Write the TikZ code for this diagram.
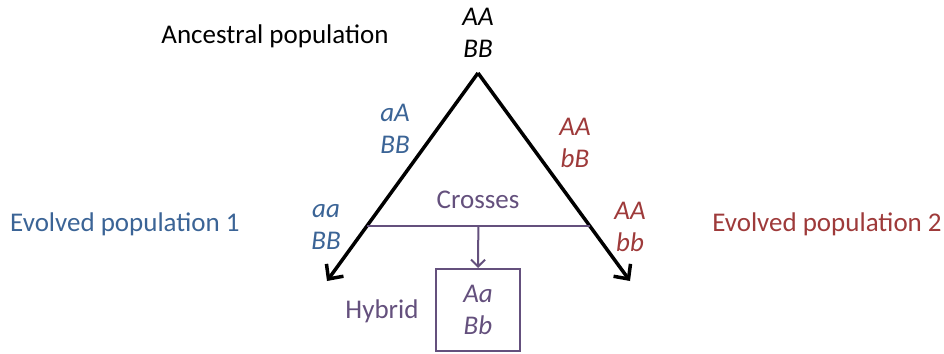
\documentclass[tikz,border=0pt]{standalone}
\usepackage{fontspec}
\setmainfont{Carlito}
\usetikzlibrary{arrows.meta,calc}
\definecolor{popblue}{HTML}{3B6496}
\definecolor{popred}{HTML}{9E3A3A}
\definecolor{hybpurple}{HTML}{64507D}
\tikzset{geno/.style={font=\fontsize{27}{32}\selectfont\itshape,align=center},
  lbl/.style={font=\fontsize{27}{30}\selectfont},
  evolve/.style={line width=3.5pt,-{Straight Barb[length=11pt,width=21pt,line width=3.5pt]}}}
\begin{document}
\begin{tikzpicture}[x=1pt,y=-1pt]
            \useasboundingbox (0,0) rectangle (944,353);
            \coordinate (apex) at (478,73);
            \coordinate (left) at (327,281);
            \coordinate (right) at (630,281);
            \draw[evolve] (apex) -- (left);
            \draw[evolve] (apex) -- (right);
            \coordinate (crossl) at ($(apex)!0.734!(left)$);
            \coordinate (crossr) at ($(apex)!0.734!(right)$);
            \coordinate (crossm) at ($(crossl)!0.5!(crossr)$);
            \draw[hybpurple,line width=2pt] (crossl) -- (crossr);
            \node[draw=hybpurple,line width=2pt,minimum width=84pt,minimum height=82pt,anchor=north,geno,text=hybpurple] (hybrid) at (478,268) {Aa\\Bb};
            \draw[hybpurple,line width=2pt,-{Straight Barb[length=7pt,width=14pt,line width=2pt]}] (crossm) -- (hybrid.north);
            \node[lbl] (anc) at (275,36) {Ancestral population};
            \node[geno] (ancg) at (478,33) {AA\\BB};
            \node[geno,text=popblue] (mid1) at (395,129) {aA\\BB};
            \node[geno,text=popred] (mid2) at (575,143) {AA\\bB};
            \node[geno,text=popblue] (end1) at (326,227) {aa\\BB};
            \node[geno,text=popred] (end2) at (630,227) {AA\\bb};
            \node[lbl,text=popblue] (pop1) at (125,224) {Evolved population 1};
            \node[lbl,text=popred] (pop2) at (827,224) {Evolved population 2};
            \node[lbl,text=hybpurple] (cross) at (478,200) {Crosses};
            \node[lbl,text=hybpurple] (hyb) at (382,311) {Hybrid};
        \end{tikzpicture}
\end{document}
